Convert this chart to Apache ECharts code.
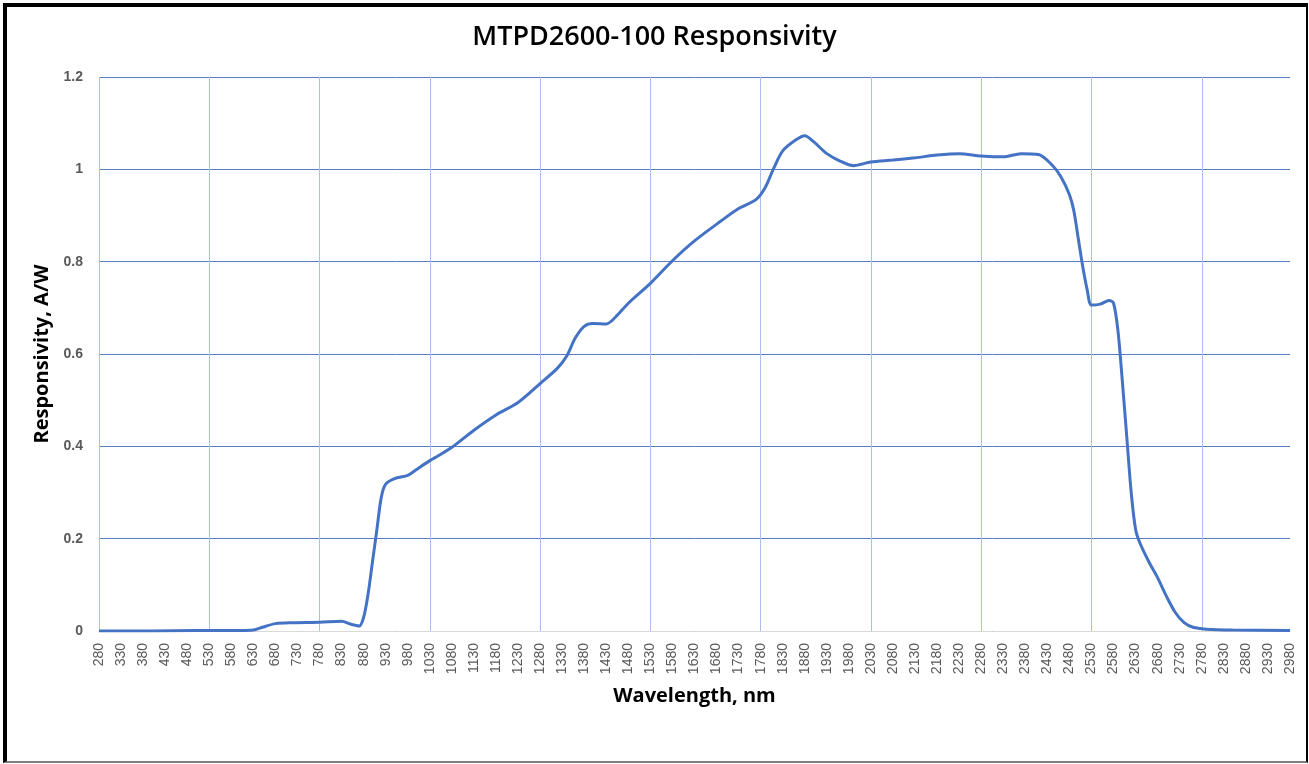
<!DOCTYPE html>
<html>
<head>
<meta charset="utf-8">
<script src="https://cdn.jsdelivr.net/npm/echarts@6/dist/echarts.min.js"></script>
<style>
  html, body { margin: 0; padding: 0; background: #fff; }
  #frame { position: absolute; left: 3px; top: 3px; width: 1299px; height: 754px;
           border-top: 4px solid #000; border-left: 4px solid #000;
           border-right: 2px solid #000; border-bottom: 2px solid #7f7f7f; }
  #chart { position: absolute; left: 0; top: 0; width: 1309px; height: 764px; }
</style>
</head>
<body>
<div id="frame"></div>
<div id="chart"></div>
<script>
// Wavelength categories (nm), every 10 nm from 280 to 2980
const wlStart = 280, wlEnd = 2980, wlStep = 10;
const categories = [];
for (let w = wlStart; w <= wlEnd; w += wlStep) categories.push(String(w));

// Read-off points: wavelength (nm) and responsivity (A/W)
const wavelengths = [280, 400, 500, 600, 630, 650, 680, 720, 780, 830, 850, 870, 880, 890, 900, 910, 920, 930, 950, 980,
  1000, 1030, 1050, 1080, 1130, 1180, 1230, 1280, 1320, 1340, 1360, 1380, 1400, 1430, 1450, 1480, 1530, 1580, 1630, 1690,
  1730, 1770, 1790, 1810, 1830, 1860, 1880, 1900, 1930, 1960, 1990, 2030, 2080, 2130, 2180, 2230, 2280, 2330, 2370,
  2410, 2440, 2460, 2480, 2490, 2500, 2510, 2520, 2530, 2550, 2570, 2580, 2590, 2600, 2610, 2620, 2630, 2640, 2660, 2680,
  2700, 2720, 2740, 2760, 2790, 2850, 2980];
const responsivity = [0, 0, 0.001, 0.001, 0.002, 0.008, 0.016, 0.018, 0.019, 0.021, 0.015, 0.011, 0.03, 0.08, 0.15, 0.22, 0.29, 0.318, 0.33, 0.337,
  0.35, 0.369, 0.38, 0.398, 0.435, 0.468, 0.495, 0.536, 0.57, 0.595, 0.635, 0.66, 0.666, 0.665, 0.679, 0.71, 0.753, 0.802, 0.845, 0.888,
  0.915, 0.935, 0.96, 1.003, 1.04, 1.064, 1.073, 1.06, 1.034, 1.018, 1.008, 1.016, 1.02, 1.025, 1.031, 1.034, 1.029, 1.027, 1.034,
  1.032, 1.01, 0.985, 0.945, 0.91, 0.85, 0.79, 0.74, 0.706, 0.708, 0.716, 0.71, 0.65, 0.54, 0.42, 0.3, 0.22, 0.19, 0.15, 0.115,
  0.075, 0.04, 0.018, 0.008, 0.004, 0.002, 0.001];

const titleText = 'MTPD2600-100 Responsivity';
const xName = 'Wavelength, nm';
const yName = 'Responsivity, A/W';

const seriesData = wavelengths.map((w, i) => [String(w), responsivity[i]]);

const chart = echarts.init(document.getElementById('chart'), null, { renderer: 'canvas' });
chart.setOption({
  animation: false,
  backgroundColor: 'transparent',
  title: {
    text: titleText, left: 'center', top: 19,
    textStyle: { fontFamily: 'Open Sans', fontSize: 27, fontWeight: 600, color: '#000' }
  },
  grid: { left: 99, right: 19, top: 77, bottom: 133, outerBoundsMode: 'none', containLabel: false },
  xAxis: {
    type: 'category', data: categories, boundaryGap: false,
    name: xName, nameLocation: 'middle', nameGap: 55,
    nameTextStyle: { fontFamily: 'Open Sans', fontSize: 20, fontWeight: 'bold', color: '#000' },
    axisLine: { show: true, lineStyle: { color: '#d9d9d9', width: 1 } },
    axisTick: { show: false },
    axisLabel: { interval: 4, rotate: 90, margin: 12, fontFamily: 'Liberation Sans', fontSize: 14, color: '#595959', hideOverlap: false },
    splitLine: { show: true, interval: 24, lineStyle: { color: '#a9c1ea', width: 1 } }
  },
  yAxis: {
    type: 'value', min: 0, max: 1.2, interval: 0.2,
    name: yName, nameLocation: 'middle', nameGap: 37, nameRotate: 90,
    nameTextStyle: { fontFamily: 'Open Sans', fontSize: 20, fontWeight: 'bold', color: '#000' },
    axisLine: { show: false }, axisTick: { show: false },
    axisLabel: { margin: 16, fontFamily: 'Liberation Sans', fontSize: 14, fontWeight: 'bold', color: '#595959' },
    splitLine: { show: true, lineStyle: { color: '#5a7dbf', width: 1 } }
  },
  series: [{
    type: 'line', data: seriesData, smooth: 0.3,
    showSymbol: false, symbol: 'none',
    lineStyle: { color: '#4472c4', width: 3 }, z: 5
  }]
});
</script>
</body>
</html>
